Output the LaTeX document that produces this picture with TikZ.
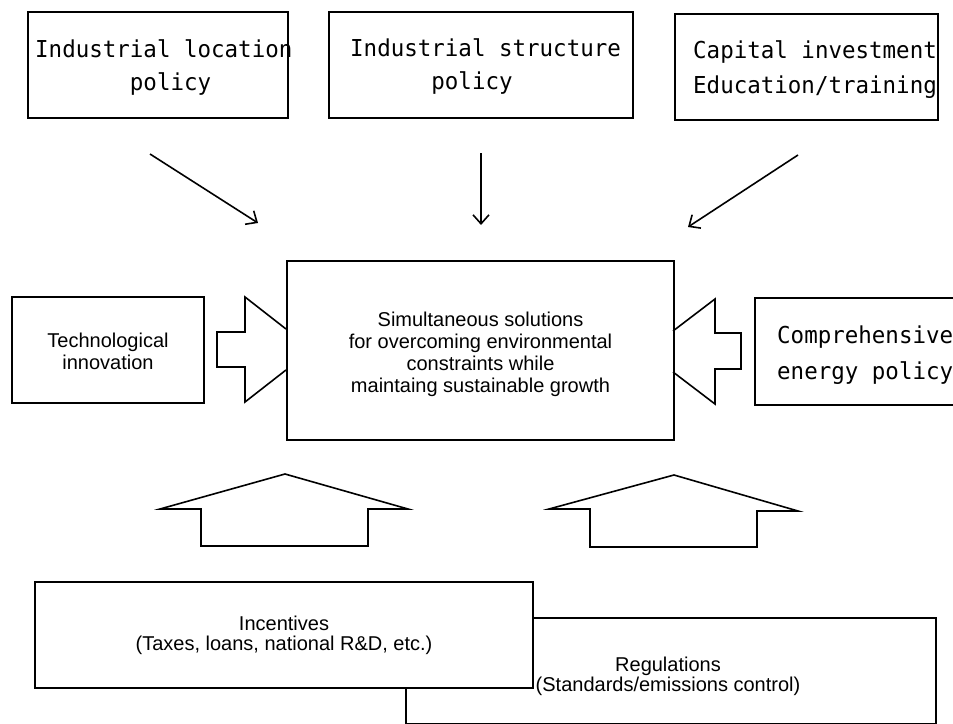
\documentclass[tikz,border=0pt]{standalone}
\usepackage{fontspec}
\setmainfont{Liberation Sans}
\newfontfamily\monofont[FakeStretch=0.965]{DejaVu Sans Mono}
\usetikzlibrary{arrows.meta}
\begin{document}
\begin{tikzpicture}[x=1pt,y=-1pt,
  frame/.style={draw=black, line width=1.8pt, inner sep=0pt, fill=white},
  mono/.style={font=\monofont\fontsize{23.3}{30}\selectfont, inner sep=0pt, anchor=base west},
  sans/.style={font=\fontsize{20}{22}\selectfont, inner sep=0pt, anchor=base},
  thinarrow/.style={line width=1.6pt, -{Straight Barb[length=9pt,width=16pt,line width=1.6pt]}},
  blockarrow/.style={line width=1.6pt, line join=miter}]
\useasboundingbox (0,0) rectangle (953,723);
\clip (0,0) rectangle (953,723);
\fill[white] (0,0) rectangle (953,723);

% top boxes
\node[frame, minimum width=260pt, minimum height=106pt] (loc) at (158,65) {};
\node[frame, minimum width=304pt, minimum height=106pt] (str) at (481,65) {};
\node[frame, minimum width=263pt, minimum height=106pt] (cap) at (806.5,67) {};
\node[mono] (loc1) at (35,57) {Industrial location};
\node[mono] (loc2) at (35,90) {\hphantom{0000000}policy};
\node[mono] (str1) at (350,56) {Industrial structure};
\node[mono] (str2) at (350,89) {\hphantom{000000}policy};
\node[mono] (cap1) at (693,58) {Capital investment};
\node[mono] (cap2) at (693,93) {Education/training};

% thin arrows
\coordinate (a1s) at (150,154); \coordinate (a1e) at (258,223);
\coordinate (a2s) at (481,153); \coordinate (a2e) at (481,225);
\coordinate (a3s) at (798,155); \coordinate (a3e) at (688,227);
\draw[thinarrow] (a1s) -- (a1e);
\draw[thinarrow] (a2s) -- (a2e);
\draw[thinarrow] (a3s) -- (a3e);

% central box
\node[frame, minimum width=387pt, minimum height=179pt] (main) at (480.5,350.5) {};
\node[sans] (m1) at (480.5,326) {Simultaneous solutions};
\node[sans] (m2) at (480.5,348) {for overcoming environmental};
\node[sans] (m3) at (480.5,370) {constraints while};
\node[sans] (m4) at (480.5,392) {maintaing sustainable growth};

% side boxes
\node[frame, minimum width=192pt, minimum height=106pt] (tech) at (108,350) {};
\node[sans] (tech1) at (108,347) {Technological};
\node[sans] (tech2) at (108,369) {innovation};
\draw[frame, fill=none] (975,298) -- (755,298) -- (755,405) -- (975,405);
\node[mono] (en1) at (777,343) {Comprehensive};
\node[mono] (en2) at (777,379) {energy policy};

% block arrows left/right
\draw[blockarrow] (286,329) -- (245,297) -- (245,332) -- (217,332) -- (217,367)
  -- (245,367) -- (245,402) -- (286,370);
\draw[blockarrow] (673,331) -- (715,299) -- (715,333) -- (741,333) -- (741,369)
  -- (715,369) -- (715,404) -- (673,372);

% up block arrows
\draw[blockarrow] (285,474) -- (408,509) -- (368,509) -- (368,546) -- (201,546)
  -- (201,509) -- (160,509) -- cycle;
\draw[blockarrow] (674,475) -- (798,511) -- (757,511) -- (757,547) -- (590,547)
  -- (590,509) -- (549,509) -- cycle;

% bottom boxes
\node[frame, line width=1.5pt, minimum width=530pt, minimum height=106pt] (reg) at (671,671) {};
\node[frame, minimum width=498pt, minimum height=106pt] (inc) at (284,635) {};
\node[sans] (inc1) at (284,630) {Incentives};
\node[sans] (inc2) at (284,650) {(Taxes, loans, national R\&D, etc.)};
\node[sans] (reg1) at (668,671) {Regulations};
\node[sans] (reg2) at (668,691) {(Standards/emissions control)};
\end{tikzpicture}
\end{document}
